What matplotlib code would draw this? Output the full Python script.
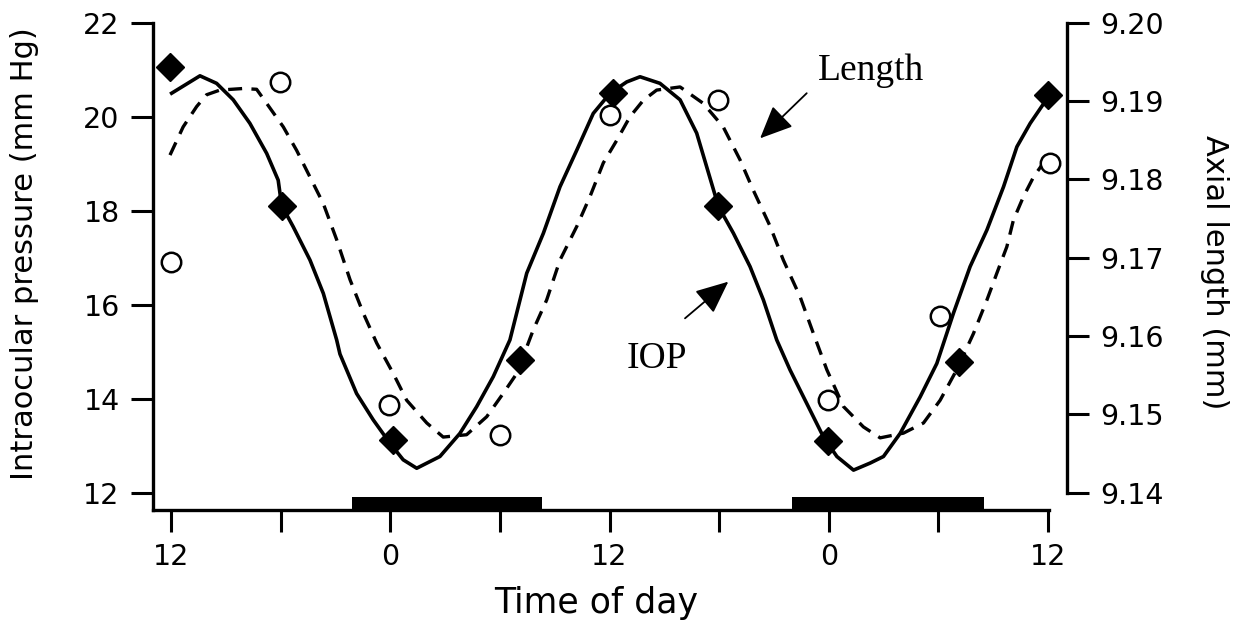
import matplotlib.pyplot as plt

# time axis in hours: 12 = noon day 1, 24 = midnight, 60 = noon day 3
tick_hours = [12, 18, 24, 30, 36, 42, 48, 54, 60]
tick_labels = ['12', '', '0', '', '12', '', '0', '', '12']

# measured IOP (filled diamonds, left axis, mm Hg)
iop_hours = [11.95, 18.06, 24.17, 31.1, 36.2, 41.96, 47.98, 55.1, 60.0]
iop_mmhg = [21.06, 18.11, 13.12, 14.82, 20.50, 18.09, 13.09, 14.79, 20.46]

# measured axial length (open circles, right axis, mm)
len_hours = [12.0, 17.97, 23.95, 30.0, 36.03, 41.96, 47.98, 54.1, 60.1]
len_mm = [9.1695, 9.1924, 9.1512, 9.1474, 9.1882, 9.1901, 9.1518, 9.1625, 9.1821]

# IOP curve (solid)
iop_fit_hours = [12.04, 13.59, 14.50, 15.41, 16.32, 17.24, 17.87, 18.06, 18.69, 19.61,
                 20.34, 21.07, 21.25, 22.16, 23.07, 23.99, 24.71, 25.45, 26.72, 27.81,
                 28.73, 29.64, 30.55, 31.47, 32.38, 33.29, 34.21, 35.11, 36.03, 36.94,
                 37.67, 38.76, 39.86, 40.77, 41.96, 42.78, 43.69, 44.42, 45.15, 45.88,
                 46.79, 47.70, 48.44, 49.35, 50.26, 50.99, 51.90, 53.00, 53.91, 54.82,
                 55.73, 56.65, 57.56, 58.29, 59.02, 60.02]
iop_fit = [20.50, 20.87, 20.71, 20.36, 19.86, 19.22, 18.65, 18.11, 17.66, 16.95,
           16.24, 15.25, 14.95, 14.11, 13.55, 13.05, 12.70, 12.52, 12.77, 13.26,
           13.83, 14.47, 15.25, 16.67, 17.52, 18.51, 19.29, 20.07, 20.50, 20.74,
           20.85, 20.71, 20.36, 19.65, 18.09, 17.52, 16.81, 16.10, 15.25, 14.61,
           13.90, 13.19, 12.77, 12.48, 12.63, 12.77, 13.26, 14.04, 14.75, 15.82,
           16.81, 17.59, 18.51, 19.36, 19.86, 20.43]

# axial length curve (dashed)
len_fit_hours = [11.95, 12.67, 13.41, 13.95, 14.68, 15.96, 16.69, 17.24, 18.15, 18.88,
                 19.61, 20.34, 21.07, 21.80, 22.53, 23.26, 24.17, 24.90, 26.00, 26.90,
                 28.18, 29.28, 30.19, 30.92, 31.83, 32.56, 33.29, 34.21, 34.93, 35.66,
                 36.40, 37.12, 37.85, 38.58, 39.86, 41.13, 42.22, 43.14, 43.87, 44.79,
                 45.51, 46.43, 47.16, 47.89, 48.80, 49.89, 50.81, 52.08, 53.18, 54.09,
                 55.00, 55.91, 56.65, 57.19, 57.74, 58.10, 58.65, 59.20, 59.74]
len_fit = [9.1831, 9.1867, 9.1893, 9.1908, 9.1914, 9.1916, 9.1915, 9.1897, 9.1867, 9.1837,
           9.1803, 9.1769, 9.1723, 9.1672, 9.1629, 9.1591, 9.1552, 9.1518, 9.1489, 9.1471,
           9.1474, 9.1497, 9.1527, 9.1552, 9.1608, 9.1646, 9.1697, 9.1740, 9.1778, 9.1821,
           9.1850, 9.1880, 9.1901, 9.1914, 9.1918, 9.1897, 9.1867, 9.1825, 9.1786, 9.1740,
           9.1697, 9.1650, 9.1603, 9.1557, 9.1510, 9.1484, 9.1470, 9.1476, 9.1489, 9.1518,
           9.1557, 9.1603, 9.1646, 9.1680, 9.1714, 9.1748, 9.1778, 9.1803, 9.1821]

# dark periods (black bars on the time axis)
dark_start = [21.9, 46.0]
dark_end = [32.3, 56.5]

y_lo, y_hi = 11.632, 22.0

fig = plt.figure(figsize=(12.52, 6.31), dpi=100)
ax = fig.add_axes([0.1222, 0.1918, 0.7157, 0.7722])
ax2 = ax.twinx()

ax.plot(iop_fit_hours, iop_fit, color='black', lw=2.6, zorder=3)
ax.plot(iop_hours, iop_mmhg, ls='none', marker='D', ms=14.5, color='black', zorder=4,
        clip_on=False)
for s, e in zip(dark_start, dark_end):
    ax.fill_between([s, e], y_lo, 11.91, color='black', lw=0, zorder=2)

ax2.plot(len_fit_hours, len_fit, color='black', lw=2.4, dashes=(4.2, 2.8), zorder=3)
ax2.plot(len_hours, len_mm, ls='none', marker='o', ms=14, mfc='white', mec='black',
         mew=1.8, zorder=4, clip_on=False)

ax.set_xlim(11.02, 60.05)
ax.set_ylim(y_lo, y_hi)
ax2.set_ylim(9.14 + (y_lo - 12) * 0.006, 9.20)

ax.set_xticks(tick_hours)
ax.set_xticklabels(tick_labels)
ax.set_yticks([12, 14, 16, 18, 20, 22])
ax2.set_yticks([9.14, 9.15, 9.16, 9.17, 9.18, 9.19, 9.20])
ax2.set_yticklabels(['9.14', '9.15', '9.16', '9.17', '9.18', '9.19', '9.20'])

for a in (ax, ax2):
    a.tick_params(length=16, width=2.2, labelsize=20.5, pad=8, direction='out')
    a.spines['top'].set_visible(False)
ax.spines['right'].set_visible(False)
ax.spines['left'].set_linewidth(2.4)
ax.spines['bottom'].set_linewidth(2.4)
ax2.spines['left'].set_visible(False)
ax2.spines['bottom'].set_visible(False)
ax2.spines['right'].set_position(('outward', 13))
ax2.spines['right'].set_bounds(9.14, 9.20)
ax2.spines['right'].set_linewidth(2.4)

fig.text(25 / 1252, 1 - 254 / 631, 'Intraocular pressure (mm Hg)', rotation=90,
         ha='center', va='center', fontsize=22)
fig.text(1215 / 1252, 1 - 272 / 631, 'Axial length (mm)', rotation=270,
         ha='center', va='center', fontsize=22)
fig.text(596 / 1252, 1 - 603 / 631, 'Time of day', ha='center', va='center', fontsize=25)

serif = ['Liberation Serif', 'DejaVu Serif']
ax.text(47.41, 20.78, 'Length', family=serif, fontsize=27, ha='left', va='baseline')
ax.text(36.96, 14.65, 'IOP', family=serif, fontsize=27, ha='left', va='baseline')
arrow = dict(arrowstyle='-|>,head_length=0.45,head_width=0.2', lw=1.3, color='black',
             shrinkA=0, shrinkB=0, mutation_scale=45)
ax.annotate('', xy=(44.24, 19.54), xytext=(46.79, 20.50), arrowprops=arrow)
ax.annotate('', xy=(42.50, 16.49), xytext=(40.13, 15.71), arrowprops=arrow)

fig.savefig('out.png', dpi=100)
